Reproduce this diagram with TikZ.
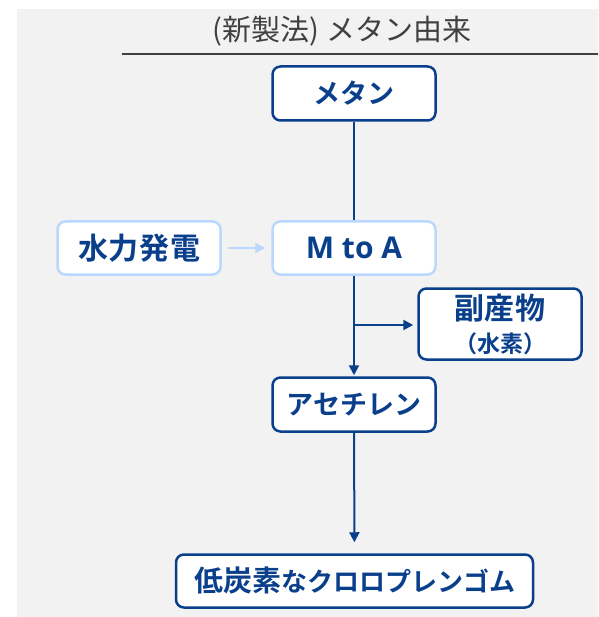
\documentclass[tikz,border=0pt]{standalone}
\usepackage{fontspec}
\setmainfont{Noto Sans CJK JP}
\newfontfamily\jpbold{Noto Sans CJK JP Bold}
\newfontfamily\jpboldwide[LetterSpace=3]{Noto Sans CJK JP Bold}
\newfontfamily\latbold{Open Sans Bold}
\usetikzlibrary{arrows.meta}
\definecolor{dblue}{HTML}{0A3F8C}
\definecolor{lblue}{HTML}{B9D8FB}
\definecolor{bggrey}{HTML}{F2F2F2}
\definecolor{tgrey}{HTML}{404040}
\newcommand{\kjw}[1]{{\jpboldwide\fontsize{30}{32}\selectfont #1}}
\tikzset{
  dbox/.style={draw=dblue, line width=2.5pt, fill=white, rounded corners=8pt,
    text=dblue, font=\jpbold\fontsize{27}{30}\selectfont, align=center, inner sep=0pt},
  lbox/.style={dbox, draw=lblue},
  conn/.style={draw=dblue, line width=2pt},
  arr/.style={conn, -{Triangle[length=10pt, width=10pt]}},
  larr/.style={draw=lblue, line width=2pt, -{Triangle[length=10pt, width=10pt]}}
}
\begin{document}
\begin{tikzpicture}[x=1pt, y=-1pt]
\useasboundingbox (0,0) rectangle (598,617);
\fill[bggrey] (17,9) rectangle (598,617);
\node[text=tgrey, font=\fontsize{29}{31}\selectfont, inner sep=0pt] (title) at (342,31) {(新製法) メタン由来};
\coordinate (hl) at (122,54);
\coordinate (hr) at (598,54);
\draw[tgrey, line width=2pt] (hl) -- (hr);

\node[dbox, minimum width=163pt, minimum height=54pt] (methane) at (354,93.5) {メタン};
\node[lbox, minimum width=163pt, minimum height=53pt] (hydro) at (139,248) {\kjw{水力発電}\hspace{-0.9pt}};
\node[lbox, minimum width=163pt, minimum height=53pt, font=\latbold\fontsize{30}{32}\selectfont] (mta) at (354,248) {M to A};
\node[dbox, minimum width=163pt, minimum height=71pt] (by) at (500,324) {\kjw{副産物}\hspace{-0.9pt}\\[3pt]{\fontsize{23}{25}\selectfont （水素）}};
\node[dbox, minimum width=163pt, minimum height=54pt] (acet) at (354,404.5) {アセチレン};
\node[dbox, minimum width=357pt, minimum height=53pt] (cr) at (354.5,581) {{\fontsize{29}{30}\selectfont 低炭素}{\fontsize{26}{30}\selectfont なクロロプレンゴム}};

\coordinate (br) at (354,325);
\draw[conn] (methane) -- (mta);
\draw[arr, shorten >=1pt] (mta) -- (acet);
\draw[arr, shorten >=4pt] (br) -- (by.west |- br);
\draw[arr, shorten >=11pt] (acet) -- (cr);
\draw[larr, shorten <=6pt, shorten >=6pt] (hydro) -- (mta);
\end{tikzpicture}
\end{document}
